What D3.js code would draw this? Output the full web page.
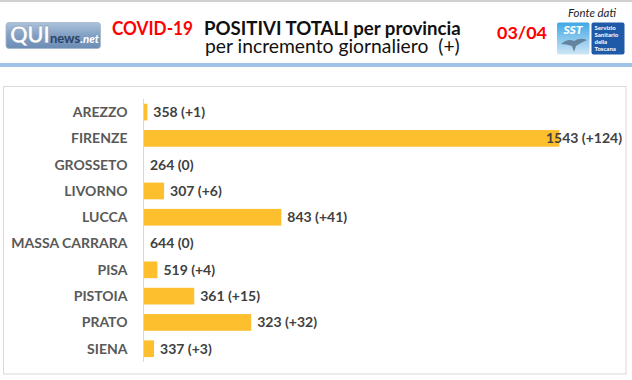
<!DOCTYPE html>
<html>
<head>
<meta charset="utf-8">
<script src="https://cdn.jsdelivr.net/npm/d3@7"></script>
<style>
  html, body { margin: 0; padding: 0; background: #fff; }
  svg { display: block; font-family: Lato, "Open Sans", sans-serif; }
</style>
</head>
<body>
<svg id="chart" width="632" height="380"></svg>
<script>
// ---- data ----
const provinces = ["AREZZO", "FIRENZE", "GROSSETO", "LIVORNO", "LUCCA", "MASSA CARRARA", "PISA", "PISTOIA", "PRATO", "SIENA"];
const totals = [358, 1543, 264, 307, 843, 644, 519, 361, 323, 337];
const increments = [1, 124, 0, 6, 41, 0, 4, 15, 32, 3];
const titleRed = "COVID-19";
const titleMain = "POSITIVI TOTALI per provincia";
const subtitle = "per incremento giornaliero  (+)";
const dateLabel = "03/04";
const sourceLabel = "Fonte dati";

const data = provinces.map((p, i) => ({ name: p, total: totals[i], inc: increments[i] }));

const svg = d3.select("#chart");

// helper: font size so that text fits a given width
function fitSize(txt, weight, style, target, base) {
  const t = svg.append("text").attr("font-size", base).attr("font-weight", weight)
    .attr("font-style", style).style("white-space", "pre").text(txt);
  const w = t.node().getComputedTextLength();
  t.remove();
  return base * target / w;
}

// top thin grey line
svg.append("rect").attr("x", 0).attr("y", 0).attr("width", 632).attr("height", 2).attr("fill", "#d0d0d0");

// ---- header: QUInews logo ----
const defs = svg.append("defs");
const lg = defs.append("linearGradient").attr("id", "qg").attr("x1", 0).attr("y1", 0).attr("x2", 0).attr("y2", 1);
lg.append("stop").attr("offset", "0%").attr("stop-color", "#adc3db");
lg.append("stop").attr("offset", "50%").attr("stop-color", "#829fc3");
lg.append("stop").attr("offset", "100%").attr("stop-color", "#6d8db5");
const logo = svg.append("g");
logo.append("rect").attr("x", 6).attr("y", 22.5).attr("width", 94.5).attr("height", 26).attr("rx", 3)
  .attr("fill", "url(#qg)").attr("stroke", "#a3b5ca").attr("stroke-width", 0.8);
const lt = logo.append("text").attr("x", 10).attr("y", 43).attr("font-weight", 900);
lt.append("tspan").attr("font-size", 22).attr("fill", "#ffffff").attr("letter-spacing", -0.5)
  .attr("stroke", "#6c86a6").attr("stroke-width", 0.4).text("QUI");
lt.append("tspan").attr("font-size", 13).attr("fill", "#2c4466").attr("font-weight", 700).attr("dx", 0.5).text("news");
lt.append("tspan").attr("font-size", 11.5).attr("fill", "#ffffff").attr("font-style", "italic").attr("font-weight", 700).text(".net");

// ---- titles ----
svg.append("text").attr("x", 112).attr("y", 35).attr("font-size", 18).attr("font-weight", 700)
  .attr("fill", "#ff0000").attr("textLength", 81).attr("lengthAdjust", "spacingAndGlyphs").text(titleRed);

const sMain = fitSize(titleMain, 700, "normal", 257, 18);
const sSub = fitSize(subtitle, 400, "normal", 255, 17);
const tt = svg.append("text").attr("fill", "#111").style("white-space", "pre");
tt.append("tspan").attr("x", 204).attr("y", 35).attr("font-size", sMain).attr("font-weight", 700).text(titleMain);
tt.append("tspan").attr("x", 205).attr("y", 53).attr("font-size", sSub).attr("font-weight", 400).text(subtitle);

svg.append("text").attr("x", 497).attr("y", 39).attr("font-size", 17.5).attr("font-weight", 700)
  .attr("fill", "#ff0000").attr("textLength", 50).attr("lengthAdjust", "spacingAndGlyphs").text(dateLabel);
svg.append("text").attr("x", 568).attr("y", 16.5).attr("font-size", 11).attr("font-style", "italic")
  .attr("fill", "#222").attr("textLength", 48).attr("lengthAdjust", "spacingAndGlyphs").text(sourceLabel);

// ---- SST logo ----
const sg = defs.append("linearGradient").attr("id", "sg").attr("x1", 0).attr("y1", 0).attr("x2", 0).attr("y2", 1);
sg.append("stop").attr("offset", "0%").attr("stop-color", "#3fa7e6");
sg.append("stop").attr("offset", "100%").attr("stop-color", "#cfe6f5");
const sst = svg.append("g");
sst.append("rect").attr("x", 557).attr("y", 22.5).attr("width", 32.5).attr("height", 32).attr("rx", 2).attr("fill", "url(#sg)");
sst.append("text").attr("x", 573).attr("y", 34).attr("text-anchor", "middle").attr("font-size", 12).attr("font-weight", 900)
  .attr("font-style", "italic").attr("fill", "#ffffff").text("SST");
sst.append("path").attr("d", "M561,44 Q568,38 574,41 Q580,37 587,40 Q580,43 576,46 L574,52 L572,46 Q566,44 561,44 Z")
  .attr("fill", "#5a7690").attr("opacity", 0.85);
sst.append("rect").attr("x", 591.5).attr("y", 22.5).attr("width", 33).attr("height", 32).attr("rx", 2).attr("fill", "#1f5aa8");
["Servizio", "Sanitario", "della", "Toscana"].forEach((w, i) => {
  sst.append("text").attr("x", 594.5).attr("y", 29.5 + i * 7).attr("font-size", 6).attr("font-weight", 700)
    .attr("fill", "#ffffff").text(w);
});

// blue separator
svg.append("rect").attr("x", 0).attr("y", 63).attr("width", 632).attr("height", 4).attr("fill", "#9dc3e6");

// ---- chart box ----
svg.append("rect").attr("x", 3.5).attr("y", 86.5).attr("width", 622.5).attr("height", 287.5)
  .attr("fill", "#fff").attr("stroke", "#d9d9d9").attr("stroke-width", 1);

const x = d3.scaleLinear().domain([0, 124]).range([144, 559.3]);
const y = d3.scaleBand().domain(provinces).range([99, 361.8]).paddingInner(0.365).paddingOuter(0.18);

// axis line
svg.append("line").attr("x1", 143.5).attr("x2", 143.5).attr("y1", 99).attr("y2", 362)
  .attr("stroke", "#d9d9d9").attr("stroke-width", 1);

// category labels via axis
const yAxis = d3.axisLeft(y).tickSize(0).tickPadding(0);
const ag = svg.append("g").attr("transform", "translate(127.5,0)").call(yAxis);
ag.select(".domain").remove();
ag.selectAll("text").attr("font-family", "Lato, sans-serif").attr("font-size", 14).attr("font-weight", 700)
  .attr("fill", "#595959").attr("dy", "0.35em");

// bars
svg.append("g").selectAll("rect").data(data).join("rect")
  .attr("x", x(0))
  .attr("y", d => y(d.name))
  .attr("width", d => x(d.inc) - x(0))
  .attr("height", y.bandwidth())
  .attr("fill", "#fdbf2d");

// value labels
const plotRight = 622;
svg.append("g").selectAll("text").data(data).join("text")
  .attr("x", d => x(d.inc) + 6)
  .attr("y", d => y(d.name) + y.bandwidth() / 2)
  .attr("dy", "0.35em")
  .attr("font-size", 14).attr("font-weight", 700).attr("fill", "#404040")
  .text(d => `${d.total} (${d.inc > 0 ? "+" + d.inc : d.inc})`)
  .each(function (d) {
    const w = this.getComputedTextLength();
    const xs = x(d.inc) + 6;
    if (xs + w > plotRight) d3.select(this).attr("x", plotRight - w);
  });
</script>
</body>
</html>
